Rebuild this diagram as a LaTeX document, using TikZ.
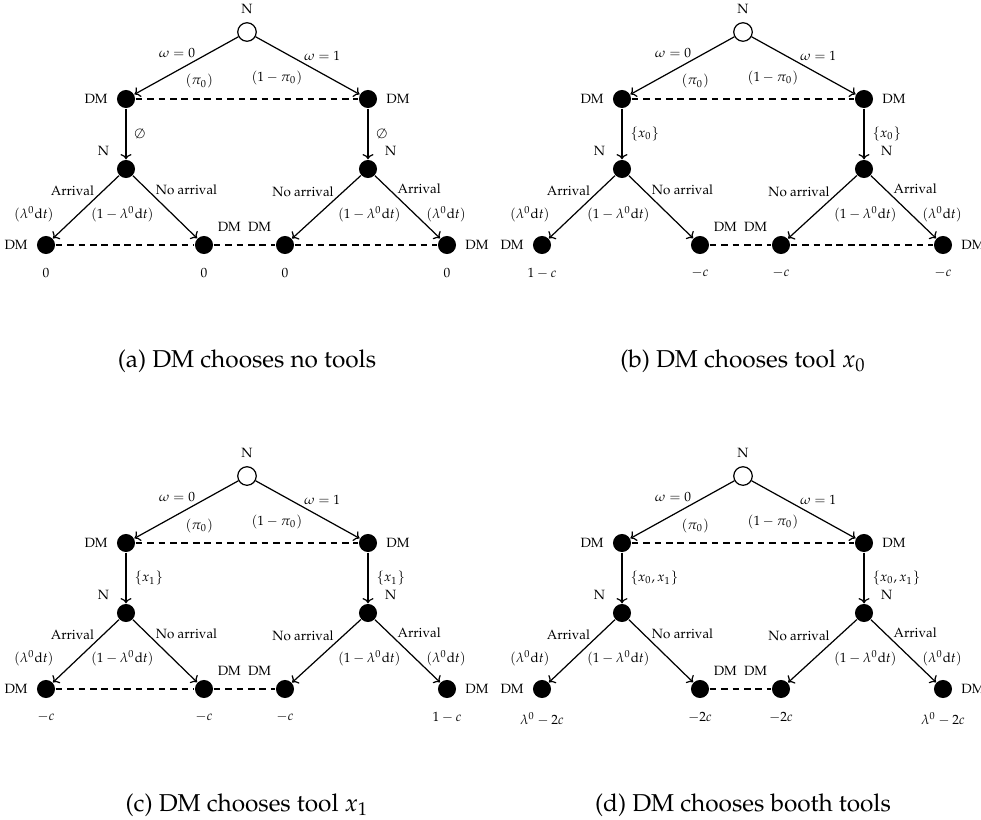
\documentclass[tikz,border=0pt]{standalone}
\usepackage[T1]{fontenc}
\usepackage{mathpazo}
\usetikzlibrary{arrows.meta}

\tikzset{
  knoten/.style={circle,fill=black,inner sep=0pt,minimum size=7.4pt},
  natur/.style={circle,draw,fill=white,inner sep=0pt,minimum size=7.6pt},
  info/.style={dash pattern=on 2.7pt off 2pt},
  zahl/.style={label distance=2pt},
  titel/.style={font=\fontsize{10}{12}\selectfont},
}

% ein Spielbaum: #1,#2 Verschiebung, #3 Signal, #4-#7 Auszahlungen, #8 Titel, #9 Infomengen unten
\newcommand{\spielbaum}[9]{%
\begin{scope}[shift={(#1,#2)}]
  % Knoten
  \node[natur,label=above:N] (wurzel) at (247,32) {};
  \node[knoten,label=left:DM] (dm0) at (126,99) {};
  \node[knoten,label=right:DM] (dm1) at (368,99) {};
  \node[knoten,label=150:N] (n0) at (126,169) {};
  \node[knoten,label=30:N] (n1) at (368,169) {};
  \node[knoten,label=left:DM,label={[zahl]below:$#4$}] (b1) at (46,245) {};
  \node[knoten,label={[label distance=-1pt]above right:DM},label={[zahl]below:$#5$}] (b2) at (204,245) {};
  \node[knoten,label={[label distance=-1pt]above left:DM},label={[zahl]below:$#6$}] (b3) at (285,245) {};
  \node[knoten,label=right:DM,label={[zahl]below:$#7$}] (b4) at (447,245) {};
  % Zweige
  \draw[->] (wurzel) -- node[pos=.4,anchor=south east,inner sep=.5pt] {$\omega=0$}
    node[pos=.56,anchor=north west,inner sep=2pt] {$(\pi_0)$} (dm0);
  \draw[->] (wurzel) -- node[pos=.45,anchor=south west,inner sep=.5pt] {$\omega=1$}
    node[pos=.5,anchor=north east,inner sep=2pt] {$(1-\pi_0)$} (dm1);
  \draw[->] (dm0) -- node[midway,right] {$#3$} (n0);
  \draw[->] (dm1) -- node[midway,right] {$#3$} (n1);
  \draw[->] (n0) -- node[pos=.35,anchor=south east,inner sep=.5pt] {Arrival}
    node[pos=.61,left=6.8pt] {$(\lambda^0\mathrm{d}t)$} (b1);
  \draw[->] (n0) -- node[pos=.33,anchor=south west,inner sep=.5pt] {No arrival}
    node[pos=.61,left=4pt] {$(1-\lambda^0\mathrm{d}t)$} (b2);
  \draw[->] (n1) -- node[pos=.37,anchor=south east,inner sep=.5pt] {No arrival}
    node[pos=.61,right=4.3pt] {$(1-\lambda^0\mathrm{d}t)$} (b3);
  \draw[->] (n1) -- node[pos=.32,anchor=south west,inner sep=.5pt] {Arrival}
    node[pos=.61,right=1.2pt] {$(\lambda^0\mathrm{d}t)$} (b4);
  % Informationsmengen
  \draw[info] (dm0) -- (dm1);
  \foreach \u/\v in {#9} { \draw[info] (\u) -- (\v); }
  % Unterschrift
  \node[titel] (titel) at (247,361) {#8};
\end{scope}}

\begin{document}
\begin{tikzpicture}[x=0.41pt,y=-0.41pt,line width=.5pt,>={To[scale=.8]},
  font=\fontsize{5.5}{6.5}\selectfont]
  \useasboundingbox (0,0) rectangle (981,819);
  \spielbaum{0}{0}{\emptyset}{0}{0}{0}{0}{(a) DM chooses no tools}{b1/b2,b2/b3,b3/b4}
  \spielbaum{496}{0}{\{x_0\}}{1-c}{-c}{-c}{-c}{(b) DM chooses tool $x_0$}{b2/b3,b3/b4}
  \spielbaum{0}{444}{\{x_1\}}{-c}{-c}{-c}{1-c}{(c) DM chooses tool $x_1$}{b1/b2,b2/b3}
  \spielbaum{496}{444}{\{x_0,x_1\}}{\lambda^0-2c}{-2c}{-2c}{\lambda^0-2c}{(d) DM chooses booth tools}{b2/b3}
\end{tikzpicture}
\end{document}
